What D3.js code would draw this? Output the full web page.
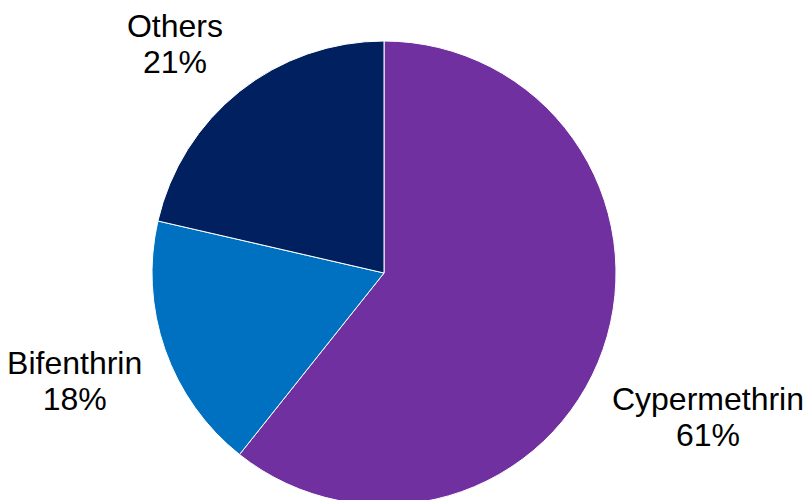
<!DOCTYPE html>
<html>
<head>
<meta charset="utf-8">
<script src="https://cdn.jsdelivr.net/npm/d3@7"></script>
<style>
  body { margin: 0; background: #fff; }
  svg { display: block; }
</style>
</head>
<body>
<div id="chart"></div>
<script>
// Chart size
const width = 807;
const height = 500;

// Data
const names = ["Cypermethrin", "Bifenthrin", "Others"];
const shares = [60.7, 17.9, 21.4];
const colors = ["#7030A0", "#0070C0", "#002060"];

const radius = 232;
const cx = 384, cy = 273;
const fontSize = 32;
const lineGap = 36;

const svg = d3.select("#chart")
    .append("svg")
    .attr("width", width)
    .attr("height", height);

const g = svg.append("g")
    .attr("transform", `translate(${cx},${cy})`);

const pie = d3.pie().sort(null).value(d => d.value);
const arcs = pie(names.map((n, i) => ({ name: n, value: shares[i], color: colors[i] })));

const arc = d3.arc().innerRadius(0).outerRadius(radius);

// Slices
g.selectAll("path.slice")
    .data(arcs)
    .enter()
    .append("path")
    .attr("class", "slice")
    .attr("d", arc)
    .attr("fill", d => d.data.color)
    .attr("stroke", "#fff")
    .attr("stroke-width", 1);

// Labels outside the pie
const labels = g.selectAll("g.label")
    .data(arcs)
    .enter()
    .append("g")
    .attr("class", "label")
    .style("font-family", "'Liberation Sans', Arial, sans-serif")
    .style("font-size", fontSize + "px")
    .attr("fill", "#000")
    .attr("text-anchor", "middle");

labels.append("text")
    .attr("y", -lineGap / 2 + fontSize * 0.35)
    .text(d => d.data.name);

labels.append("text")
    .attr("y", lineGap / 2 + fontSize * 0.35)
    .text(d => d3.format(".0%")(Math.round(d.data.value) / 100));

// place each label just outside its slice, sliding along the circle to stay inside the chart
labels.attr("transform", function(d) {
    const bb = this.getBBox();
    const hw = bb.width / 2, hh = bb.height / 2;
    const a = (d.startAngle + d.endAngle) / 2;
    const s = Math.sin(a), c = Math.cos(a);
    const r = radius + 20 + Math.abs(s) * hw + Math.abs(c) * hh;
    let x = r * s, y = -r * c;
    const mx = 3, my = 8;
    const maxX = width - mx - hw - cx, minX = mx + hw - cx;
    const minY = my + hh - cy, maxY = height - my - hh - cy;
    if (x > maxX) { x = maxX; y = Math.sign(y || 1) * Math.sqrt(r * r - x * x); }
    if (x < minX) { x = minX; y = Math.sign(y || 1) * Math.sqrt(r * r - x * x); }
    if (y < minY) { y = minY; x = Math.sign(x || 1) * Math.sqrt(r * r - y * y); }
    if (y > maxY) { y = maxY; x = Math.sign(x || 1) * Math.sqrt(r * r - y * y); }
    return `translate(${x},${y})`;
});
</script>
</body>
</html>
